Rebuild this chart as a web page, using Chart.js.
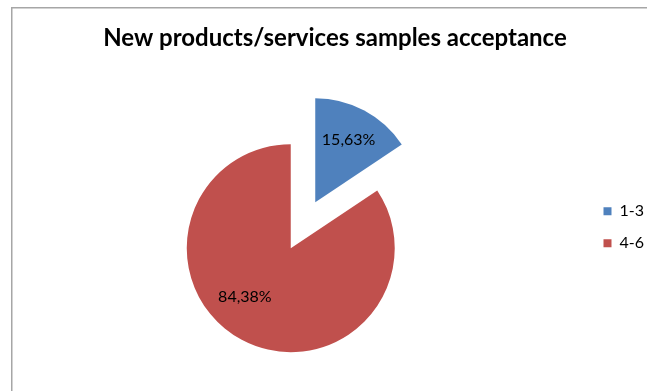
<!DOCTYPE html>
<html>
<head>
<meta charset="utf-8">
<title>New products/services samples acceptance</title>
<script src="https://cdn.jsdelivr.net/npm/chart.js@4.4.1/dist/chart.umd.min.js"></script>
<style>
  html, body { margin: 0; padding: 0; background: #fff; overflow: hidden; }
  canvas { display: block; }
</style>
</head>
<body>
<canvas id="chart" width="680" height="391"></canvas>
<script>
const categories = ['1-3', '4-6'];
const shares = [15.63, 84.38];

const formatShare = v => v.toFixed(2).replace('.', ',') + '%';

// gray frame of the chart sheet (right and bottom edges fall outside the picture)
const framePlugin = {
    id: 'frame',
    beforeDraw(chart) {
        const ctx = chart.ctx;
        ctx.save();
        ctx.strokeStyle = '#a6a6a6';
        ctx.lineWidth = 1.5;
        ctx.strokeRect(11.75, 7.75, chart.width, chart.height);
        ctx.restore();
    }
};

// empty box between pie and legend, so the title stays centred on the whole sheet
const spacerPlugin = {
    id: 'spacer',
    beforeInit(chart) {
        Chart.layouts.addBox(chart, {
            position: 'right',
            weight: 0,
            fullSize: false,
            options: {},
            isHorizontal() { return false; },
            update(maxWidth, maxHeight) {
                this.width = 22;
                this.height = maxHeight;
            },
            draw() {}
        });
    }
};

// pull one slice out of the pie along its middle angle
const explodePlugin = {
    id: 'explode',
    afterDatasetsUpdate(chart, args, opts) {
        const arc = chart.getDatasetMeta(0).data[opts.index];
        if (!arc) return;
        const mid = (arc.startAngle + arc.endAngle) / 2;
        arc.x += Math.cos(mid) * opts.distance;
        arc.y += Math.sin(mid) * opts.distance;
    }
};

// percentage labels inside the slices
const sliceLabels = {
    id: 'sliceLabels',
    afterDatasetsDraw(chart, args, opts) {
        const ctx = chart.ctx;
        const meta = chart.getDatasetMeta(0);
        ctx.save();
        ctx.font = opts.font;
        ctx.fillStyle = '#000';
        ctx.textAlign = 'center';
        ctx.textBaseline = 'middle';
        meta.data.forEach((arc, i) => {
            const angle = (arc.startAngle + arc.endAngle) / 2 + (opts.turn[i] || 0) * Math.PI / 180;
            const r = arc.outerRadius * opts.along[i];
            ctx.fillText(formatShare(shares[i]), arc.x + Math.cos(angle) * r, arc.y + Math.sin(angle) * r);
        });
        ctx.restore();
    }
};

new Chart(document.getElementById('chart'), {
    type: 'pie',
    data: {
        labels: categories,
        datasets: [{
            data: shares,
            backgroundColor: ['#4F81BD', '#C0504D'],
            borderWidth: 0,
            radius: 104,
            clip: false
        }]
    },
    options: {
        responsive: false,
        animation: false,
        events: [],
        layout: {
            padding: { left: 16, right: 26, top: 0, bottom: 82 }
        },
        plugins: {
            title: {
                display: true,
                text: 'New products/services samples acceptance',
                color: '#000',
                font: { family: 'Lato', size: 24, weight: 'bold' },
                padding: { top: 24, bottom: 134.5 }
            },
            legend: {
                position: 'right',
                align: 'start',
                fullSize: false,
                labels: {
                    boxWidth: 8,
                    boxHeight: 8,
                    padding: 16,
                    color: '#000',
                    font: { family: 'Lato', size: 16 }
                }
            },
            tooltip: { enabled: false },
            explode: { index: 0, distance: 52 },
            sliceLabels: { font: '16px Lato', along: [0.68, 0.645], turn: [0, 15] }
        }
    },
    plugins: [framePlugin, spacerPlugin, explodePlugin, sliceLabels]
});
</script>
</body>
</html>
